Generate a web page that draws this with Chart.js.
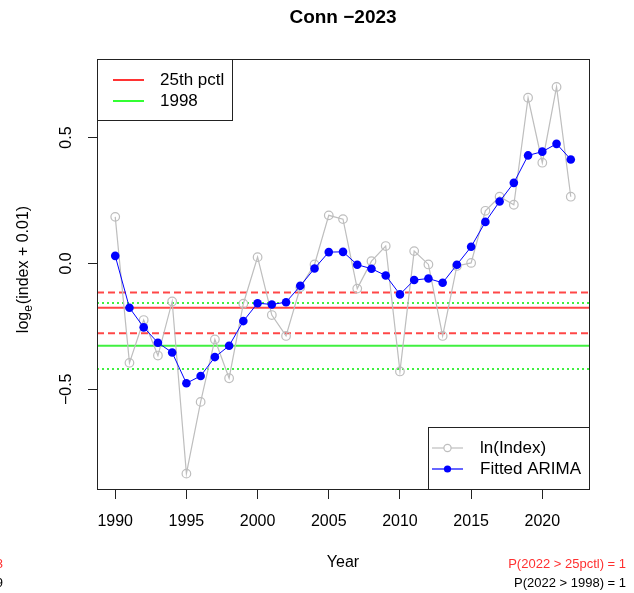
<!DOCTYPE html>
<html>
<head>
<meta charset="utf-8">
<script src="https://cdn.jsdelivr.net/npm/chart.js@4"></script>
<style>
  body { margin: 0; background: #fff; }
  canvas { display: block; }
</style>
</head>
<body>
<canvas id="c" width="634" height="593"></canvas>
<script>
const years = [1990, 1991, 1992, 1993, 1994, 1995, 1996, 1997, 1998, 1999, 2000, 2001, 2002, 2003, 2004, 2005, 2006,
  2007, 2008, 2009, 2010, 2011, 2012, 2013, 2014, 2015, 2016, 2017, 2018, 2019, 2020, 2021, 2022]
const lnIndex = [0.185, -0.395, -0.225, -0.366, -0.151, -0.835, -0.550, -0.302, -0.456, -0.160, 0.025, -0.205, -0.288,
  -0.095, -0.004, 0.191, 0.176, -0.100, 0.009, 0.069, -0.429, 0.049, -0.004, -0.288, -0.010, 0.002, 0.209, 0.265,
  0.233, 0.658, 0.400, 0.701, 0.265]
const fitted = [0.030, -0.176, -0.254, -0.315, -0.354, -0.476, -0.447, -0.372, -0.327, -0.229, -0.158, -0.163, -0.154,
  -0.089, -0.020, 0.045, 0.046, -0.005, -0.021, -0.048, -0.123, -0.066, -0.060, -0.077, -0.005, 0.066, 0.165, 0.246,
  0.320, 0.429, 0.444, 0.475, 0.413]

// reference levels: value, lower, upper
const pctl25 = [-0.176, -0.277, -0.115]
const ref1998 = [-0.327, -0.419, -0.157]

const xTicks = [1990, 1995, 2000, 2005, 2010, 2015, 2020]
const yTicks = [-0.5, 0, 0.5]
const yTickLabels = ['\u22120.5', '0.0', '0.5']

const xMin = 1988.72, xMax = 2023.28
const yMin = -0.896, yMax = 0.812

const hline = (y, color, width, dash) => ({
  data: [{x: xMin, y}, {x: xMax, y}],
  borderColor: color,
  borderWidth: width,
  borderDash: dash,
  pointRadius: 0,
  showLine: true,
})

const RED = 'rgba(255,0,0,0.72)'
const GREEN = 'rgba(0,235,0,0.75)'
const FONT = 'Liberation Sans, Arial, sans-serif'

const decor = {
  id: 'decor',
  afterDraw(chart) {
    const {ctx, chartArea: a, scales} = chart
    ctx.save()
    // plot box
    ctx.strokeStyle = '#222'
    ctx.lineWidth = 1
    ctx.strokeRect(a.left + 0.5, a.top + 0.5, a.right - a.left, a.bottom - a.top)

    // y tick labels (rotated, R style)
    ctx.fillStyle = '#000'
    ctx.font = '16px ' + FONT
    ctx.textAlign = 'center'
    ctx.textBaseline = 'middle'
    yTicks.forEach((v, i) => {
      const py = scales.y.getPixelForValue(v)
      ctx.save()
      ctx.translate(67, py)
      ctx.rotate(-Math.PI / 2)
      ctx.fillText(yTickLabels[i], 0, 0)
      ctx.restore()
    })

    // y axis title: log_e(index + 0.01)
    ctx.save()
    ctx.translate(24, 270)
    ctx.rotate(-Math.PI / 2)
    ctx.textAlign = 'left'
    ctx.textBaseline = 'middle'
    const p1 = 'log', p2 = 'e', p3 = '(index + 0.01)'
    ctx.font = '16px ' + FONT
    const w1 = ctx.measureText(p1).width
    const w3 = ctx.measureText(p3).width
    ctx.font = '12px ' + FONT
    const w2 = ctx.measureText(p2).width
    let x0 = -(w1 + w2 + w3) / 2
    ctx.font = '16px ' + FONT
    ctx.fillText(p1, x0, 0)
    ctx.font = '12px ' + FONT
    ctx.fillText(p2, x0 + w1, 5)
    ctx.font = '16px ' + FONT
    ctx.fillText(p3, x0 + w1 + w2 + 1, 0)
    ctx.restore()

    // title
    ctx.font = 'bold 19px ' + FONT
    ctx.textAlign = 'center'
    ctx.fillText('Conn \u22122023', (a.left + a.right) / 2, 18)

    // x title
    ctx.font = '16px ' + FONT
    ctx.fillText('Year', (a.left + a.right) / 2, 563)

    // probability notes
    ctx.font = '13px ' + FONT
    ctx.textAlign = 'right'
    ctx.fillStyle = '#FF3030'
    ctx.fillText('P(2022 > 25pctl) = 1', 626, 564)
    ctx.fillText('3', 3, 564)
    ctx.fillStyle = '#000'
    ctx.fillText('P(2022 > 1998) = 1', 626, 583)
    ctx.fillText('9', 3, 583)

    // top-left legend
    ctx.fillStyle = '#fff'
    ctx.strokeStyle = '#222'
    ctx.lineWidth = 1
    ctx.fillRect(a.left, a.top, 136, 62)
    ctx.strokeRect(a.left + 0.5, a.top + 0.5, 135, 61)
    ctx.font = '17px ' + FONT
    ctx.textAlign = 'left'
    ctx.fillStyle = '#000'
    const swatches = [['25th pctl', '#FF0000', 80], ['1998', '#00FF00', 101]]
    swatches.forEach(([t, c, y]) => {
      ctx.strokeStyle = c
      ctx.lineWidth = 1.6
      ctx.beginPath()
      ctx.moveTo(113, y)
      ctx.lineTo(144, y)
      ctx.stroke()
      ctx.fillText(t, 160, y)
    })

    // bottom-right legend
    ctx.lineWidth = 1
    ctx.fillStyle = '#fff'
    ctx.fillRect(428, 427, a.right - 428, a.bottom - 427)
    ctx.strokeStyle = '#222'
    ctx.strokeRect(428.5, 427.5, a.right - 428, a.bottom - 427)
    const keys = [['ln(Index)', '#BEBEBE', false, 448], ['Fitted ARIMA', 'blue', true, 469]]
    keys.forEach(([t, c, fill, y]) => {
      ctx.strokeStyle = c
      ctx.lineWidth = 1.2
      ctx.beginPath()
      ctx.moveTo(432, y)
      ctx.lineTo(463, y)
      ctx.stroke()
      ctx.beginPath()
      ctx.arc(447.5, y, 3.6, 0, Math.PI * 2)
      if (fill) { ctx.fillStyle = c; ctx.fill() }
      else { ctx.fillStyle = '#fff'; ctx.fill(); ctx.stroke() }
      ctx.fillStyle = '#000'
      ctx.font = '17px ' + FONT
      ctx.fillText(t, 480, y)
    })
    ctx.restore()
  }
}

new Chart(document.getElementById('c'), {
  type: 'scatter',
  data: {
    datasets: [
      {
        label: 'Fitted ARIMA',
        data: years.map((yr, i) => ({x: yr, y: fitted[i]})),
        showLine: true,
        borderColor: 'blue',
        borderWidth: 1,
        pointRadius: 4.3,
        pointBackgroundColor: 'blue',
        pointBorderColor: 'blue',
        pointBorderWidth: 0,
      },
      {
        label: 'ln(Index)',
        data: years.map((yr, i) => ({x: yr, y: lnIndex[i]})),
        showLine: true,
        borderColor: '#BEBEBE',
        borderWidth: 1.2,
        pointRadius: 4.3,
        pointBackgroundColor: 'rgba(0,0,0,0)',
        pointBorderColor: '#BEBEBE',
        pointBorderWidth: 1.2,
      },
      hline(pctl25[0], RED, 2, []),
      hline(pctl25[1], RED, 2, [7, 4]),
      hline(pctl25[2], RED, 2, [7, 4]),
      hline(ref1998[0], GREEN, 2, []),
      hline(ref1998[1], GREEN, 2, [2, 3]),
      hline(ref1998[2], GREEN, 2, [2, 3]),
    ]
  },
  options: {
    responsive: false,
    animation: false,
    layout: {padding: {left: 0, right: 45, top: 59, bottom: 0}},
    plugins: {legend: {display: false}, tooltip: {enabled: false}},
    scales: {
      x: {
        type: 'linear',
        min: xMin,
        max: xMax,
        afterBuildTicks: s => { s.ticks = xTicks.map(v => ({value: v})) },
        afterFit: s => { s.height = 104 },
        grid: {display: true, drawOnChartArea: false, drawTicks: true, tickLength: 10, color: '#222'},
        border: {display: false},
        ticks: {
          color: '#000',
          font: {size: 16, family: FONT},
          padding: 13,
          maxRotation: 0,
          callback: v => String(v),
        },
      },
      y: {
        type: 'linear',
        min: yMin,
        max: yMax,
        afterBuildTicks: s => { s.ticks = yTicks.map(v => ({value: v})) },
        afterFit: s => { s.width = 97 },
        grid: {display: true, drawOnChartArea: false, drawTicks: true, tickLength: 9, color: '#222'},
        border: {display: false},
        ticks: {display: false},
      },
    },
  },
  plugins: [decor],
})
</script>
</body>
</html>
